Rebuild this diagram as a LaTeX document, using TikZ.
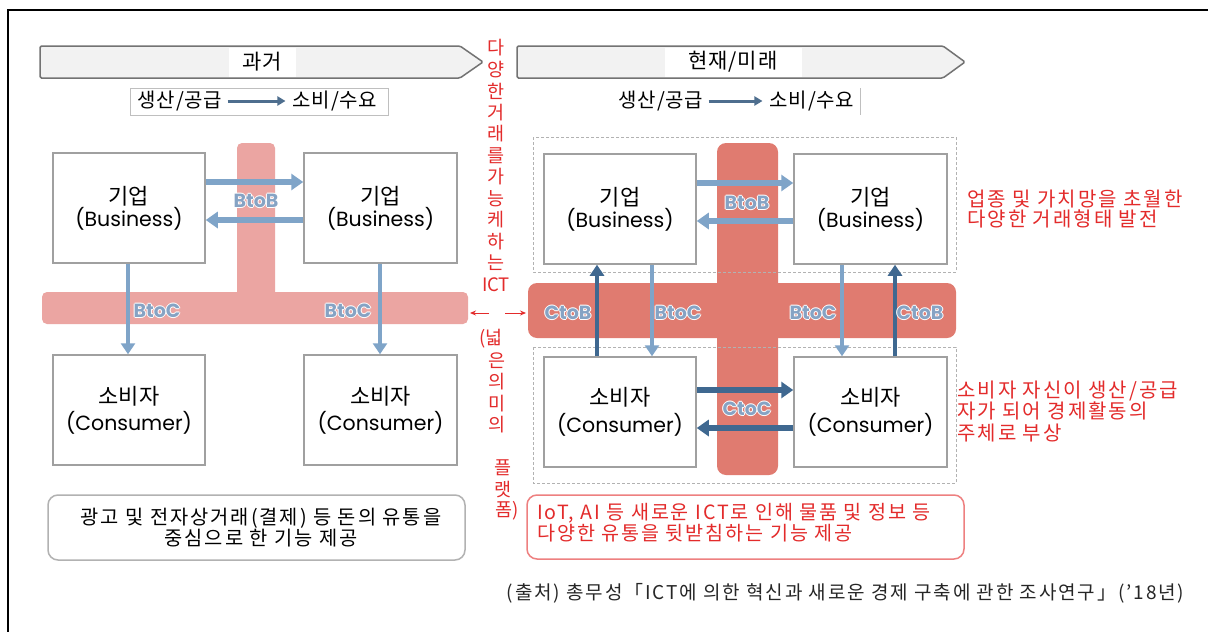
\documentclass[tikz,border=0pt]{standalone}
\usepackage{fontspec}
\usetikzlibrary{arrows.meta}
\newfontfamily\kr{Noto Sans CJK KR}
\newfontfamily\krm{Noto Sans CJK KR}[LetterSpace=4]
\newfontfamily\krs{Noto Sans CJK KR}[LetterSpace=10]
\newfontfamily\lat{Poppins}
\definecolor{pinkL}{HTML}{EBA5A2}
\definecolor{pinkR}{HTML}{E07B70}
\definecolor{bluL}{HTML}{7FA4C8}
\definecolor{bluD}{HTML}{3F6890}
\definecolor{lbl}{HTML}{86A3C4}
\definecolor{redT}{HTML}{E32B2B}
\definecolor{boxG}{HTML}{A0A0A0}
\definecolor{subA}{HTML}{4E6E8E}
\newcommand\halo[1]{\leavevmode\rlap{\kern1pt\textcolor{white}{#1}}\rlap{\kern-1pt\textcolor{white}{#1}}\rlap{\raisebox{1pt}{\textcolor{white}{#1}}}\rlap{\raisebox{-1pt}{\textcolor{white}{#1}}}\textcolor{lbl}{#1}}
\newcommand\krbig[1]{{\kr\fontsize{22}{22}\selectfont #1}}
\begin{document}
\begin{tikzpicture}[x=1pt,y=-1pt,
  box/.style={draw=boxG, line width=1.5pt, fill=white, minimum width=152pt, minimum height=110pt, align=center, inner sep=0pt, font=\fontsize{20.5}{22}\selectfont},
  banner/.style={draw=black!55, fill=black!5, line width=1.5pt, rounded corners=1.5pt},
  bannerlbl/.style={fill=white, inner sep=0pt, minimum height=29pt, font=\krm\fontsize{21}{21}\selectfont},
  subtxt/.style={inner sep=3pt, font=\krm\fontsize{20}{20}\selectfont},
  subarr/.style={draw=subA, line width=3pt, -{Triangle[length=8pt,width=9pt]}, shorten >=4pt, shorten <=2pt},
  lightarr/.style={draw=bluL, line width=6pt, -{Triangle[length=12pt,width=16pt]}},
  darkarr/.style={draw=bluD, line width=6pt, -{Triangle[length=12pt,width=16pt]}},
  lightv/.style={draw=bluL, line width=4.5pt, -{Triangle[length=11pt,width=14pt]}},
  darkv/.style={draw=bluD, line width=4.5pt, -{Triangle[length=11pt,width=14pt]}},
  flowlbl/.style={inner sep=0pt, font=\lat\bfseries\fontsize{19}{19}\selectfont},
  vtxt/.style={inner sep=0pt, text=redT, font=\kr\fontsize{18.5}{18}\selectfont},
  redtxt/.style={inner sep=0pt, text=redT, align=left, font=\krs\fontsize{20}{20}\selectfont},
  redarr/.style={draw=redT, line width=0.9pt, -{Stealth[length=6pt,width=5pt]}},
  dbox/.style={draw=black!30, dashed, line width=0.8pt, dash pattern=on 3pt off 2pt}
]
\useasboundingbox (0,0) rectangle (1208,632);
\fill[white] (0,0) rectangle (1208,632);
\draw[line width=1.5pt] (8,632) -- (8,10) -- (1208,10);

% banners
\path[banner] (40,46) -- (460,46) -- (483,62) -- (460,78) -- (40,78) -- cycle;
\node[bannerlbl, minimum width=67pt] (past) at (262,62) {과거};
\path[banner] (517,46) -- (943,46) -- (965,62) -- (943,78) -- (517,78) -- cycle;
\node[bannerlbl, minimum width=137pt] (now) at (733,62) {현재/미래};

% subtitles
\draw[black!25, line width=1pt] (130,88) rectangle (388,115);
\node[subtxt] (lsup) at (180,101) {생산/공급};
\node[subtxt] (ldem) at (335,101) {소비/수요};
\draw[subarr] (lsup) -- (ldem);
\draw[black!25, line width=1pt] (860,88) -- (860,115);
\node[subtxt] (rsup) at (661,101) {생산/공급};
\node[subtxt] (rdem) at (812,101) {소비/수요};
\draw[subarr] (rsup) -- (rdem);

% left platform (T shape)
\fill[pinkL, rounded corners=5pt] (237,143) rectangle (275,300);
\fill[pinkL, rounded corners=5pt] (42,292) rectangle (468,324);

% right platform (cross)
\fill[pinkR, rounded corners=9pt] (717,143) rectangle (778,475);
\fill[pinkR, rounded corners=9pt] (528,283) rectangle (956,338);
\draw[dbox] (533,137) rectangle (956,272);
\draw[dbox] (533,347) rectangle (956,483);

% left boxes
\node[box] (lb1) at (129,208) {\krbig{기업}\\{\lat (Business)}};
\node[box, minimum width=153pt] (lb2) at (380.5,208) {\krbig{기업}\\{\lat (Business)}};
\node[box] (lc1) at (129,410) {\krbig{소비자}\\[4pt]{\lat (Consumer)}};
\node[box, minimum width=153pt] (lc2) at (380.5,410) {\krbig{소비자}\\[4pt]{\lat (Consumer)}};

% right boxes
\node[box] (rb1) at (620,209) {\krbig{기업}\\{\lat (Business)}};
\node[box, minimum width=153pt] (rb2) at (870.5,209) {\krbig{기업}\\{\lat (Business)}};
\node[box] (rc1) at (620,412) {\krbig{소비자}\\[5pt]{\lat (Consumer)}};
\node[box, minimum width=153pt] (rc2) at (870.5,412) {\krbig{소비자}\\[5pt]{\lat (Consumer)}};

% level coordinates
\coordinate (yLa) at (0,182);
\coordinate (yLb) at (0,220);
\coordinate (yRa) at (0,183);
\coordinate (yRb) at (0,221);
\coordinate (yCa) at (0,390);
\coordinate (yCb) at (0,428);
\coordinate (xL1) at (128,0);
\coordinate (xL2) at (380,0);
\coordinate (xR1) at (597,0);
\coordinate (xR2) at (652,0);
\coordinate (xR3) at (842,0);
\coordinate (xR4) at (895,0);

% left arrows
\draw[lightarr] (lb1.east |- yLa) -- (lb2.west |- yLa);
\draw[lightarr] (lb2.west |- yLb) -- (lb1.east |- yLb);
\draw[lightv] (lb1.south -| xL1) -- (lc1.north -| xL1);
\draw[lightv] (lb2.south -| xL2) -- (lc2.north -| xL2);

% right arrows
\draw[lightarr] (rb1.east |- yRa) -- (rb2.west |- yRa);
\draw[lightarr] (rb2.west |- yRb) -- (rb1.east |- yRb);
\draw[darkarr] (rc1.east |- yCa) -- (rc2.west |- yCa);
\draw[darkarr] (rc2.west |- yCb) -- (rc1.east |- yCb);
\draw[darkv] (rc1.north -| xR1) -- (rb1.south -| xR1);
\draw[lightv] (rb1.south -| xR2) -- (rc1.north -| xR2);
\draw[lightv] (rb2.south -| xR3) -- (rc2.north -| xR3);
\draw[darkv] (rc2.north -| xR4) -- (rb2.south -| xR4);

% flow labels
\node[flowlbl] (lBtoB) at (256,201) {\halo{BtoB}};
\node[flowlbl] (lBtoC1) at (157,311) {\halo{BtoC}};
\node[flowlbl] (lBtoC2) at (348,311) {\halo{BtoC}};
\node[flowlbl] (rBtoB) at (747,203) {\halo{BtoB}};
\node[flowlbl] (rCtoB1) at (568,313) {\halo{CtoB}};
\node[flowlbl] (rBtoC1) at (678,313) {\halo{BtoC}};
\node[flowlbl] (rBtoC2) at (813,313) {\halo{BtoC}};
\node[flowlbl] (rCtoB2) at (920,313) {\halo{CtoB}};
\node[flowlbl] (rCtoC) at (747,409) {\halo{CtoC}};

% vertical red column
\foreach \t [count=\i from 0] in {다,양,한,거,래,를,가,능,케,하,는,ICT}
  \node[vtxt] (vt\i) at (496,{48+21.5*\i}) {\t};
\foreach \t/\xx/\yy [count=\i] in {{(넓}/491/339,은/497/360.5,의/497/382,미/497/403.5,의/497/425,플/503/468,랫/503/489.5,{폼)}/507/511}
  \node[vtxt] (vb\i) at (\xx,\yy) {\t};
\coordinate (raL0) at (489,313);
\coordinate (raL1) at (470,313);
\coordinate (raR0) at (505,313);
\coordinate (raR1) at (526,313);
\draw[redarr] (raL0) -- (raL1);
\draw[redarr] (raR0) -- (raR1);

% red annotations
\node[redtxt, anchor=west] (ann1) at (967,209) {업종 및 가치망을 초월한\\다양한 거래형태 발전};
\node[redtxt, anchor=west, font=\krs\fontsize{20}{21.5}\selectfont] (ann2) at (957,411.5) {소비자 자신이 생산/공급\\자가 되어 경제활동의\\주체로 부상};

% bottom notes
\node[draw=black!30, line width=1.5pt, rounded corners=10pt, fill=white, minimum width=417pt, minimum height=65pt, inner sep=0pt] (lnote) at (256.5,527.5) {};
\node[inner sep=0pt, align=center, font=\krs\fontsize{19.8}{20}\selectfont] (lnotet) at (261,527.5) {광고 및 전자상거래(결제) 등 돈의 유통을\\중심으로 한 기능 제공};
\node[draw=redT!60, line width=1.5pt, rounded corners=10pt, fill=white, minimum width=437pt, minimum height=64pt, inner sep=0pt] (rnote) at (745.5,527) {};
\node[inner sep=0pt, align=left, anchor=west, text=redT, font=\krs\fontsize{19.6}{20}\selectfont] (rnotet) at (537,523) {IoT, AI 등 새로운 ICT로 인해 물품 및 정보 등\\다양한 유통을 뒷받침하는 기능 제공};

% source
\node[inner sep=0pt, text=black!85, font=\krs\fontsize{19}{19}\selectfont] (src) at (845.5,593) {(출처) 총무성「ICT에 의한 혁신과 새로운 경제 구축에 관한 조사연구」(’18년)};
\end{tikzpicture}
\end{document}
